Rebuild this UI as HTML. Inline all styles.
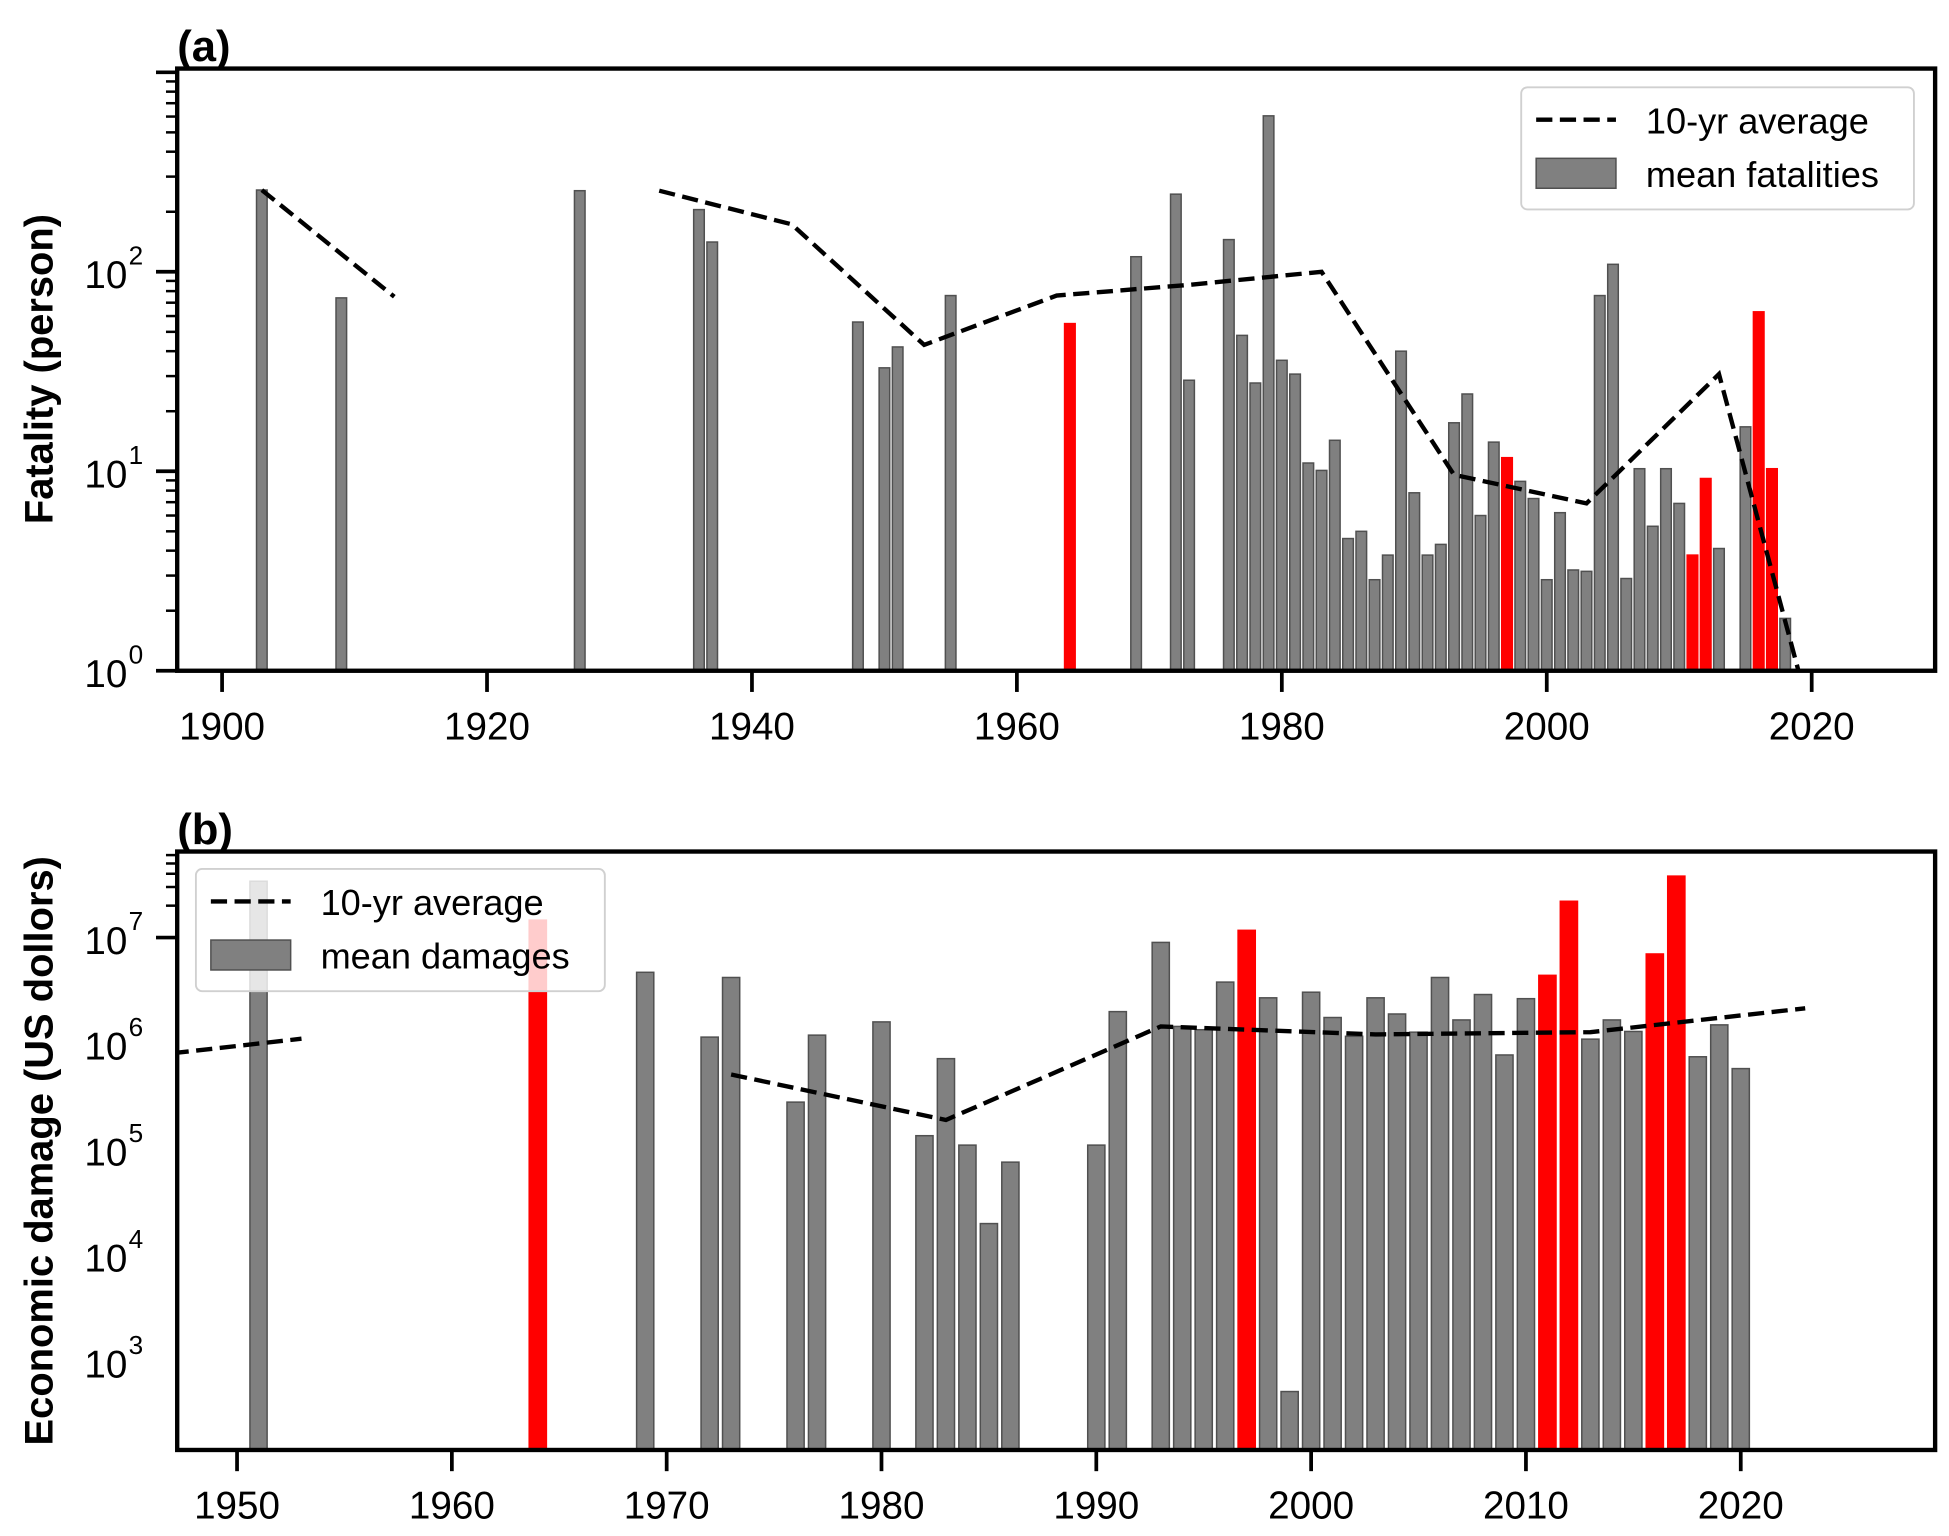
<!DOCTYPE html>
<html><head><meta charset="utf-8"><style>body{margin:0;background:#fff}svg{display:block}text{font-family:"Liberation Sans",Arial,sans-serif}</style></head>
<body>
<svg id="fig" width="1949" height="1536" viewBox="0 0 1563 1232" xmlns="http://www.w3.org/2000/svg"></svg>
<script>
// Panel (a) data
const yearsA = [1903,1909,1927,1936,1937,1948,1950,1951,1955,1964,1969,1972,1973,1976,1977,1978,1979,1980,1981,1982,1983,1984,1985,1986,1987,1988,1989,1990,1991,1992,1993,1994,1995,1996,1997,1998,1999,2000,2001,2002,2003,2004,2005,2006,2007,2008,2009,2010,2011,2012,2013,2015,2016,2017,2018];
const fatalA = [257,74,255,205,141,56,33,42,76,55,119,245,28.6,145,48,27.7,605,36,30.7,11,10.1,14.3,4.6,5,2.86,3.8,40,7.8,3.8,4.3,17.5,24.4,6,14,11.7,8.9,7.3,2.86,6.2,3.2,3.15,76,109,2.9,10.3,5.3,10.3,6.9,3.8,9.2,4.1,16.7,63,10.3,1.83];
const redYearsA = [1964,1997,2011,2012,2016,2017];
const avgA1Years = [1903,1913];
const avgA1 = [257,75];
const avgA2Years = [1933,1943,1953,1963,1973,1983,1993,2003,2013,2019];
const avgA2 = [255,173,43,76,86,100,9.6,6.9,30.7,1];
const xTicksA = [1900,1920,1940,1960,1980,2000,2020];
const yTicksA = [0,1,2];
// Panel (b) data
const yearsB = [1951,1964,1969,1972,1973,1976,1977,1980,1982,1983,1984,1985,1986,1990,1991,1993,1994,1995,1996,1997,1998,1999,2000,2001,2002,2003,2004,2005,2006,2007,2008,2009,2010,2011,2012,2013,2014,2015,2016,2017,2018,2019,2020];
const damB = [34e6,14.6e6,4.7e6,1.15e6,4.2e6,2.8e5,1.2e6,1.6e6,1.35e5,7.2e5,1.1e5,2e4,7.6e4,1.1e5,2e6,9e6,1.45e6,1.35e6,3.8e6,11.7e6,2.7e6,520,3.05e6,1.76e6,1.17e6,2.7e6,1.9e6,1.28e6,4.2e6,1.67e6,2.9e6,7.8e5,2.65e6,4.4e6,22e6,1.1e6,1.67e6,1.3e6,7e6,38e6,7.5e5,1.5e6,5.8e5];
const redYearsB = [1964,1997,2011,2012,2016,2017];
const avgB1Years = [1947,1953];
const avgB1 = [8.1e5,1.11e6];
const avgB2Years = [1973,1983,1993,2003,2013,2023];
const avgB2 = [5.1e5,1.9e5,1.45e6,1.22e6,1.28e6,2.15e6];
const xTicksB = [1950,1960,1970,1980,1990,2000,2010,2020];
const yTicksB = [3,4,5,6,7];

const NS='http://www.w3.org/2000/svg';
const svg=document.getElementById('fig');
function mk(tag,attrs,parent){const e=document.createElementNS(NS,tag);for(const k in attrs)e.setAttribute(k,attrs[k]);(parent||svg).appendChild(e);return e;}

function panel(cfg){
  const g=mk('g',{});
  
  
  const X=y=>cfg.x0+(y-cfg.xr0)*cfg.xs;
  const Y=v=>cfg.yb-(Math.log10(v)-cfg.ylog0)*cfg.ys;
  const clipId=cfg.name+'-clip';
  const cp=mk('clipPath',{id:clipId},g);mk('rect',{x:cfg.L,y:cfg.T,width:cfg.R-cfg.L,height:cfg.B-cfg.T},cp);
  const plot=mk('g',{'clip-path':'url(#'+clipId+')'},g);
  const bw=cfg.xs*0.8;
  cfg.years.forEach((yr,i)=>{
    const red=cfg.reds.includes(yr);
    const top=Y(cfg.vals[i]);
    const r=mk('rect',{x:X(yr)-bw/2,y:top,width:bw,height:Math.max(0,cfg.B-top),fill:red?'#ff0000':'#808080',stroke:red?'#ff0000':'#505050','stroke-width':1.2},plot);
    
    
  });
  cfg.lines.forEach((ln,j)=>{
    const pts=ln[0].map((yr,i)=>X(yr)+','+Y(ln[1][i])).join(' ');
    const p=mk('polyline',{points:pts,fill:'none',stroke:'#000','stroke-width':3.5,'stroke-dasharray':'13,6'},plot);
    
    
  });
  mk('rect',{x:cfg.L,y:cfg.T,width:cfg.R-cfg.L,height:cfg.B-cfg.T,fill:'none',stroke:'#000','stroke-width':3.5},g);
  cfg.xticks.forEach(t=>{
    const x=X(t);
    mk('line',{x1:x,x2:x,y1:cfg.B,y2:cfg.B+17,stroke:'#000','stroke-width':3},g);
    const tx=mk('text',{x:x,y:cfg.B+55,'font-size':31,'text-anchor':'middle'},g);tx.textContent=t;
    
    
  });
  for(let d=Math.floor(cfg.ylog0);d<=Math.ceil(cfg.ylogTop);d++){
    for(let m=1;m<10;m++){
      const lv=d+Math.log10(m);
      if(lv<cfg.ylog0-1e-6||lv>cfg.ylogTop)continue;
      const y=Y(Math.pow(10,lv));
      mk('line',{x1:cfg.L-(m===1?17:9),x2:cfg.L,y1:y,y2:y,stroke:'#000','stroke-width':m===1?3:2},g);
    }
  }
  cfg.yticks.forEach(e=>{
    const y=Y(Math.pow(10,e));
    const t=mk('text',{x:cfg.L-40,y:y+13,'font-size':31,'text-anchor':'end'},g);t.textContent='10';
    
    
    const s=mk('text',{x:cfg.L-39,y:y-6,'font-size':21},g);s.textContent=e;
  });
  const lab=mk('text',{x:cfg.panelX,y:cfg.T-6,'font-size':35,'font-weight':'bold'},g);lab.textContent=cfg.label;
  
  
  const yl=mk('text',{x:0,y:0,'font-size':32,'font-weight':'bold','text-anchor':'middle',transform:`translate(${cfg.ylabX},${cfg.ylabY}) rotate(-90)`},g);yl.textContent=cfg.ylabel;
  
  
  const lg=mk('g',{},g);
  
  
  const L=cfg.leg;
  mk('rect',{x:L.x,y:L.y,width:L.w,height:98,rx:5,fill:'#fff','fill-opacity':0.8,stroke:'#d0d0d0','stroke-width':1.5},lg);
  mk('line',{x1:L.x+12,x2:L.x+76,y1:L.y+26,y2:L.y+26,stroke:'#000','stroke-width':3.5,'stroke-dasharray':'13,6'},lg);
  const t1=mk('text',{x:L.x+100,y:L.y+37,'font-size':29},lg);t1.textContent='10-yr average';
  
  
  mk('rect',{x:L.x+12,y:L.y+57,width:64,height:24,fill:'#808080',stroke:'#505050','stroke-width':1.2},lg);
  const t2=mk('text',{x:L.x+100,y:L.y+80,'font-size':29},lg);t2.textContent=cfg.legText;
  
  
}

panel({name:'panel-a',L:142,R:1552,T:55,B:538,x0:178,xr0:1900,xs:10.625,yb:538,ylog0:0,ys:160,ylogTop:3.02,
  years:yearsA,vals:fatalA,reds:redYearsA,lines:[[avgA1Years,avgA1],[avgA2Years,avgA2]],xticks:xTicksA,yticks:yTicksA,
  label:'(a)',panelX:142,ylabel:'Fatality (person)',ylabX:42,ylabY:296,leg:{x:1220,y:70,w:315},legText:'mean fatalities'});
panel({name:'panel-b',L:142,R:1552,T:683,B:1163,x0:190,xr0:1950,xs:17.23,yb:752,ylog0:7,ys:85,ylogTop:7.81,
  years:yearsB,vals:damB,reds:redYearsB,lines:[[avgB1Years,avgB1],[avgB2Years,avgB2]],xticks:xTicksB,yticks:yTicksB,
  label:'(b)',panelX:142,ylabel:'Economic damage (US dollors)',ylabX:42,ylabY:923,leg:{x:157,y:697,w:328},legText:'mean damages'});
</script>
</body></html>
